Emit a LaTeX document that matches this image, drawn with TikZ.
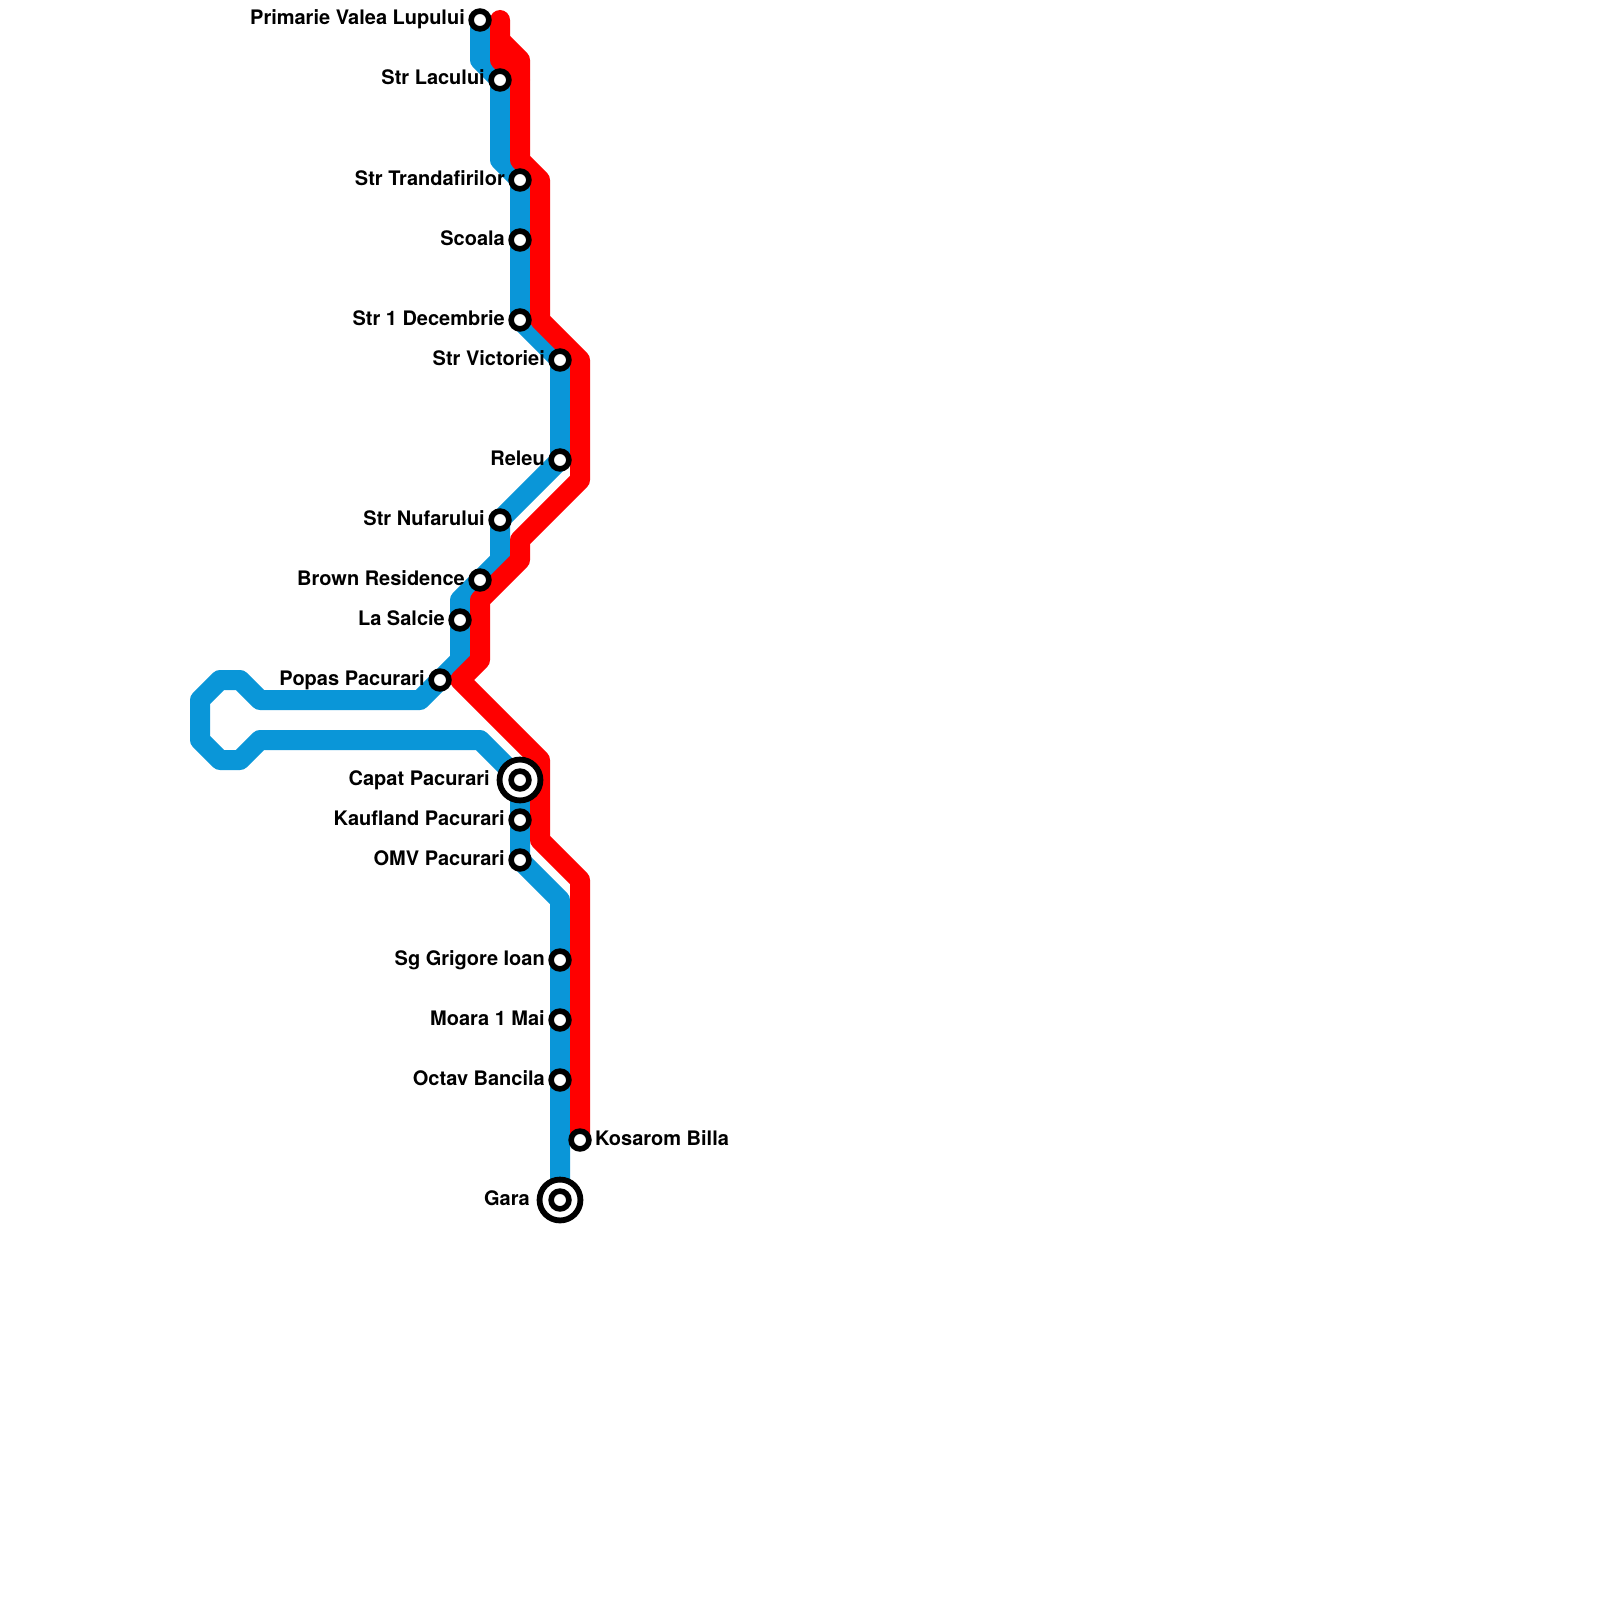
\documentclass[tikz,border=0pt]{standalone}
\usepackage{fontspec}
\setmainfont{TeX Gyre Heros}
\begin{document}
\begin{tikzpicture}[x=1pt,y=-1pt,
  blueline/.style={draw=linkblue,line width=20pt,line join=round},
  redline/.style={draw=red,line width=20pt,line join=round},
  stop/.style={circle,draw=black,fill=white,line width=5.6pt,minimum size=17.8pt,inner sep=0pt,outer sep=0pt},
  termouter/.style={circle,draw=black,fill=white,line width=5.8pt,minimum size=40.9pt,inner sep=0pt,outer sep=0pt},
  lab/.style={font=\bfseries\fontsize{20}{22}\selectfont,inner sep=0pt,text=black},
  labl/.style={lab,anchor=base east},
  labr/.style={lab,anchor=base west}]
\definecolor{linkblue}{HTML}{0A96D8}
\useasboundingbox (0,0) rectangle (1600,1600);
\fill[white] (0,0) rectangle (1600,1600);
% station positions
\foreach \n/\x/\y in {a/480/20,b/500/80,c/520/180,d/520/240,e/520/320,f/560/360,g/560/460,h/500/520,i/480/580,j/460/620,k/440/680,l/520/780,m/520/820,n/520/860,o/560/960,p/560/1020,q/560/1080,r/580/1140,s/560/1200}{\coordinate (p\n) at (\x,\y);}
% blue waypoints
\foreach \n/\x/\y in {1/480/60,2/500/160,3/500/560,4/460/600,5/460/660,6/420/700,7/260/700,8/240/680,9/220/680,10/200/700,11/200/740,12/220/760,13/240/760,14/260/740,15/480/740,16/520/860,17/560/900}{\coordinate (b\n) at (\x,\y);}
% red waypoints
\foreach \n/\x/\y in {0/500/20,1/500/40,2/500/60,3/520/60,4/520/80,5/520/160,6/540/180,7/540/320,8/580/360,9/580/480,10/520/540,11/520/560,12/480/600,13/480/660,14/460/680,15/540/760,16/540/840,17/580/880}{\coordinate (r\n) at (\x,\y);}
\draw[blueline] (pa)--(b1)--(pb)--(b2)--(pc)--(pe)--(pf)--(pg)--(ph)--(b3)--(b4)--(b5)--(b6)--(b7)--(b8)--(b9)--(b10)--(b11)--(b12)--(b13)--(b14)--(b15)--(pl)--(b16)--(b17)--(ps);
\draw[redline,line cap=round] (r0)--(r2)--(r4);
\draw[redline] (r1)--(r3)--(r4)--(r5)--(r6)--(r7)--(r8)--(r9)--(r10)--(r11)--(r12)--(r13)--(r14)--(r15)--(r16)--(r17)--(pr);
% stations
\foreach \n in {a,b,c,d,e,f,g,h,i,j,k,m,n,o,p,q,r}{\node[stop] (st\n) at (p\n) {};}
\node[termouter] (stl) at (pl) {};
\node[stop] (stlc) at (pl) {};
\node[termouter] (sts) at (ps) {};
\node[stop] (stsc) at (ps) {};
% labels
\node[labl] (la) at (465,25) {Primarie Valea Lupului};
\node[labl] (lb) at (485,85) {Str Lacului};
\node[labl] (lc) at (505,185) {Str Trandafirilor};
\node[labl] (ld) at (505,245) {Scoala};
\node[labl] (le) at (505,325) {Str 1 Decembrie};
\node[labl] (lf) at (545,365) {Str Victoriei};
\node[labl] (lg) at (545,465) {Releu};
\node[labl] (lh) at (485,525) {Str Nufarului};
\node[labl] (li) at (465,585) {Brown Residence};
\node[labl] (lj) at (445,625) {La Salcie};
\node[labl] (lk) at (425,685) {Popas Pacurari};
\node[labl] (ll) at (490,785) {Capat Pacurari};
\node[labl] (lm) at (505,825) {Kaufland Pacurari};
\node[labl] (ln) at (505,865) {OMV Pacurari};
\node[labl] (lo) at (545,965) {Sg Grigore Ioan};
\node[labl] (lp) at (545,1025) {Moara 1 Mai};
\node[labl] (lq) at (545,1085) {Octav Bancila};
\node[labr] (lr) at (595,1145) {Kosarom Billa};
\node[labl] (ls) at (530,1205) {Gara};
\end{tikzpicture}
\end{document}
